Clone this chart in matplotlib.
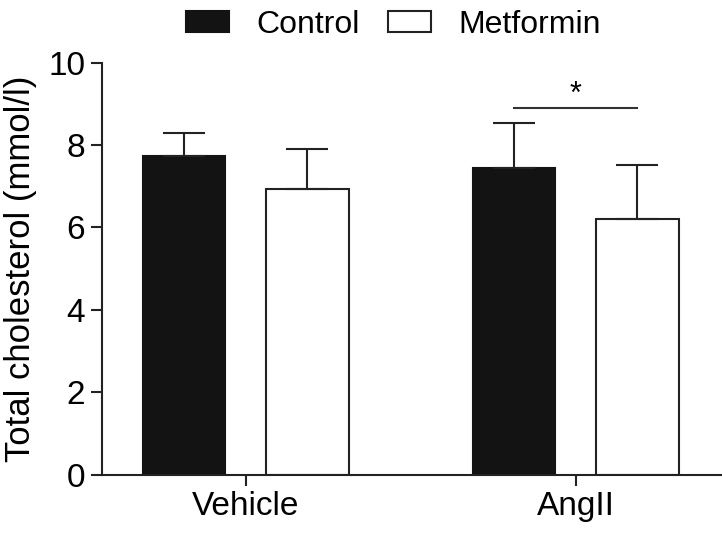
import numpy as np
import matplotlib
matplotlib.use('Agg')
import matplotlib.pyplot as plt
from matplotlib.patches import Patch

plt.rcParams['font.family'] = ['Liberation Sans', 'DejaVu Sans']

groups = ['Vehicle', 'AngII']
series = ['Control', 'Metformin']
control_mean = [7.73, 7.44]
control_err = [0.57, 1.10]
metformin_mean = [6.94, 6.20]
metformin_err = [0.96, 1.31]
sig_level = 8.91
sig_label = '*'

fig = plt.figure(figsize=(7.22, 5.42), dpi=100)
ax = fig.add_axes([0.1413, 0.1245, 0.8587, 0.7598])

x = np.arange(len(groups))
width = 0.25
off = 0.187
lw = 1.5

err_kw = dict(ecolor='#222222', elinewidth=lw, capthick=lw, capsize=15)
ax.bar(x - off, control_mean, width, color='#131313', edgecolor='#131313', linewidth=lw,
       yerr=[np.zeros(len(groups)), control_err], error_kw=err_kw)
ax.bar(x + off, metformin_mean, width, color='white', edgecolor='#222222', linewidth=lw,
       yerr=[np.zeros(len(groups)), metformin_err], error_kw=err_kw)

# significance bracket for AngII
ax.plot([x[1] - off, x[1] + off], [sig_level, sig_level], color='#333333', lw=lw)
ax.text(x[1], sig_level - 0.05, sig_label, ha='center', va='bottom', fontsize=22)

ax.set_xlim(-0.435, 1.443)
ax.set_ylim(0, 10)
ax.set_yticks([0, 2, 4, 6, 8, 10])
ax.set_xticks(x)
ax.set_xticklabels(groups)
ax.set_ylabel('Total cholesterol (mmol/l)', fontsize=25, labelpad=8)

for s in ['top', 'right']:
    ax.spines[s].set_visible(False)
for s in ['left', 'bottom']:
    ax.spines[s].set_linewidth(lw)
    ax.spines[s].set_color('#222222')
ax.tick_params(axis='both', labelsize=24, length=8, width=lw, color='#222222', pad=4)

handles = [Patch(facecolor='#131313', edgecolor='#131313', linewidth=lw),
           Patch(facecolor='white', edgecolor='#222222', linewidth=lw)]
fig.legend(handles, series, loc='upper center', bbox_to_anchor=(0.545, 1.035), ncol=2,
           frameon=False, fontsize=23, handlelength=1.35, handleheight=0.6,
           handletextpad=0.85, columnspacing=0.9)

fig.savefig('out.png', dpi=100)
